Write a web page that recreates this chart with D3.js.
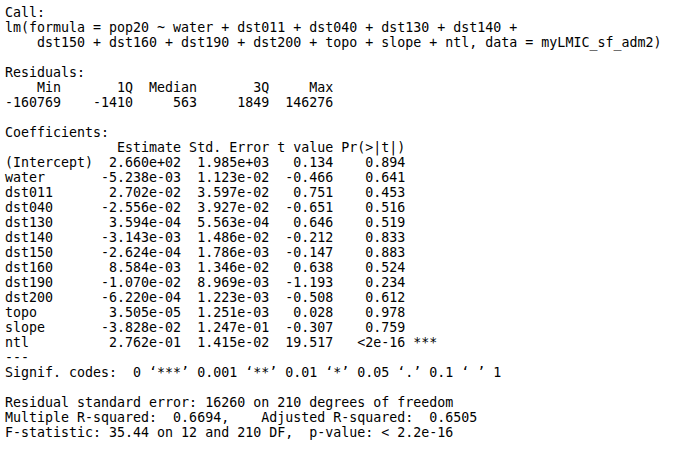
<!DOCTYPE html>
<html><head><meta charset="utf-8">
<script src="https://cdn.jsdelivr.net/npm/d3@7"></script>
<style>body{margin:0;background:#fff}text{white-space:pre;font-family:"DejaVu Sans Mono",monospace;font-size:13.3px;fill:#000}</style>
</head><body>
<script>
const callLines = ["Call:",
 "lm(formula = pop20 ~ water + dst011 + dst040 + dst130 + dst140 + ",
 "    dst150 + dst160 + dst190 + dst200 + topo + slope + ntl, data = myLMIC_sf_adm2)"];
const residLabels = ["Min","1Q","Median","3Q","Max"];
const residValues = ["-160769","-1410","563","1849","146276"];
const terms = ["(Intercept)","water","dst011","dst040","dst130","dst140","dst150","dst160","dst190","dst200","topo","slope","ntl"];
const estimates = ["2.660e+02","-5.238e-03","2.702e-02","-2.556e-02","3.594e-04","-3.143e-03","-2.624e-04","8.584e-03","-1.070e-02","-6.220e-04","3.505e-05","-3.828e-02","2.762e-01"];
const stdErrors = ["1.985e+03","1.123e-02","3.597e-02","3.927e-02","5.563e-04","1.486e-02","1.786e-03","1.346e-02","8.969e-03","1.223e-03","1.251e-03","1.247e-01","1.415e-02"];
const tValues = ["0.134","-0.466","0.751","-0.651","0.646","-0.212","-0.147","0.638","-1.193","-0.508","0.028","-0.307","19.517"];
const pValues = ["0.894","0.641","0.453","0.516","0.519","0.833","0.883","0.524","0.234","0.612","0.978","0.759","<2e-16"];
const stars = ["","","","","","","","","","","","","***"];
const footer = ["---","Signif. codes:  0 \u2018***\u2019 0.001 \u2018**\u2019 0.01 \u2018*\u2019 0.05 \u2018.\u2019 0.1 \u2018 \u2019 1","",
 "Residual standard error: 16260 on 210 degrees of freedom",
 "Multiple R-squared:  0.6694,\tAdjusted R-squared:  0.6505 ",
 "F-statistic: 35.44 on 12 and 210 DF,  p-value: < 2.2e-16"];

const pad=(s,n)=>s.padStart(n);
const lines=[...callLines,"","Residuals:",
 residLabels.map((l,i)=>pad(l,[7,8,7,8,7][i])).join(" "),
 residValues.map((l,i)=>pad(l,[7,8,7,8,7][i])).join(" "),
 "","Coefficients:",
 pad("",11)+" "+pad("Estimate",10)+" "+"Std. Error"+" "+"t value"+" "+"Pr(>|t|)    "];
terms.forEach((t,i)=>lines.push(t.padEnd(11)+" "+pad(estimates[i],10)+" "+pad(stdErrors[i],10)+" "+pad(tValues[i],7)+" "+pad(pValues[i],8)+" "+stars[i]));
footer.forEach(f=>lines.push(f.replace("\t","    ")));

const svg=d3.select("body").append("svg").attr("width",691).attr("height",449);
const y=d3.scaleLinear().domain([0,1]).range([17,32]);
svg.selectAll("text").data(lines).join("text").attr("x",5).attr("y",(d,i)=>y(i)).text(d=>d);
</script></body></html>
